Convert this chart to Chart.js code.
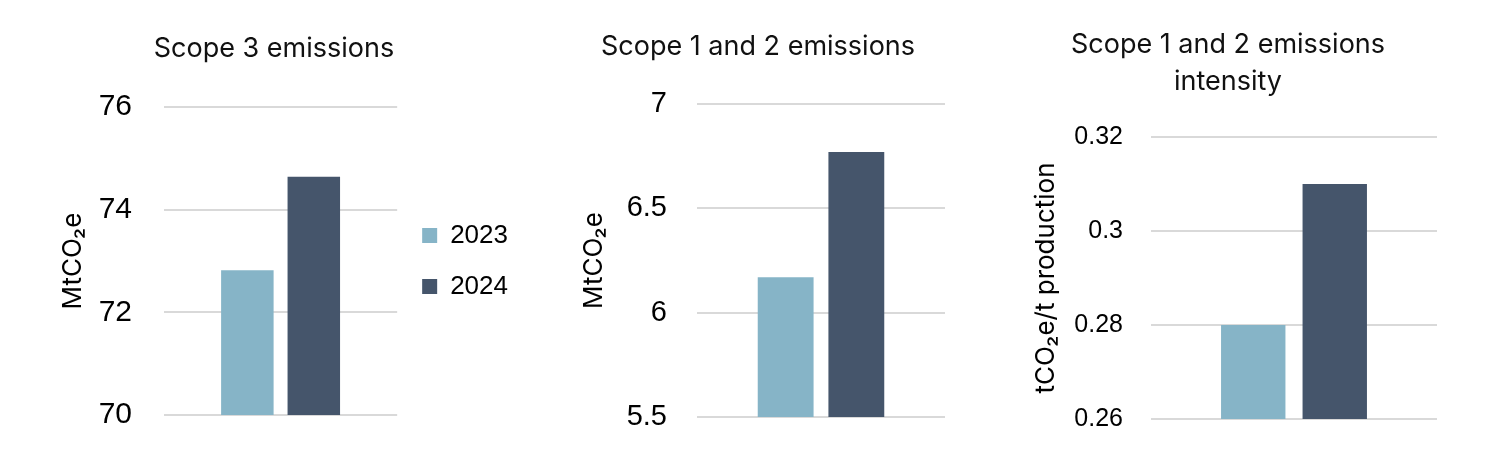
<!DOCTYPE html>
<html>
<head>
<meta charset="utf-8">
<script src="https://cdn.jsdelivr.net/npm/chart.js@4.4.1/dist/chart.umd.min.js"></script>
<style>
  html, body { margin: 0; padding: 0; background: #fff; }
  .box { position: absolute; top: 0; height: 465px; }
</style>
</head>
<body>
<div class="box" style="left:0;width:548px"><canvas id="scope3"></canvas></div>
<div class="box" style="left:548px;width:430px"><canvas id="scope12"></canvas></div>
<div class="box" style="left:978px;width:519px"><canvas id="intensity"></canvas></div>
<script>
Chart.defaults.font.family = "Inter, 'Liberation Sans', sans-serif";
Chart.defaults.color = '#111';

// data
const years = ['2023', '2024'];
const scope3 = [72.82, 74.64];
const scope12 = [6.17, 6.77];
const intensity = [0.28, 0.31];
const scope3Ticks = [70, 72, 74, 76];
const scope12Ticks = [5.5, 6, 6.5, 7];
const intensityTicks = [0.26, 0.28, 0.3, 0.32];

const barColors = ['#86b4c7', '#45556b'];
const tickFont = "'Liberation Sans', Arial, sans-serif";

function build(id, cfg) {
  return new Chart(document.getElementById(id), {
    type: 'bar',
    data: {
      labels: [''],
      datasets: years.map((y, i) => ({
        label: y,
        data: [cfg.values[i]],
        backgroundColor: barColors[i],
        categoryPercentage: 0.57,
        barPercentage: 0.79,
      }))
    },
    options: {
      responsive: true,
      maintainAspectRatio: false,
      animation: false,
      layout: { padding: cfg.pad },
      scales: {
        x: { display: false },
        y: {
          min: cfg.ticks[0],
          max: cfg.ticks[cfg.ticks.length - 1],
          afterBuildTicks: ax => { ax.ticks = cfg.ticks.map(v => ({ value: v })); },
          afterFit: ax => { ax.width = cfg.axisWidth; },
          border: { display: false },
          grid: { color: '#d9d9d9', lineWidth: 2, drawTicks: false },
          ticks: {
            padding: cfg.tickPad,
            color: '#000',
            font: { size: cfg.tickSize, family: tickFont },
            callback: v => String(v),
          },
          title: {
            display: true,
            text: cfg.yTitle,
            color: '#000',
            font: { size: 26 },
            padding: { top: cfg.yTitlePad, bottom: 0 },
          }
        }
      },
      plugins: {
        legend: cfg.legend ? {
          position: 'right',
          align: 'center',
          fullSize: false,
          maxWidth: 121,
          labels: {
            boxWidth: 15,
            boxHeight: 15,
            padding: 25,
            color: '#000',
            font: { size: 26, family: tickFont },
          }
        } : { display: false },
        title: {
          display: true,
          text: cfg.title,
          color: '#111',
          font: { size: 27, weight: 'normal', lineHeight: cfg.titleLine || 1.2 },
          padding: cfg.titlePad,
        },
        tooltip: { enabled: false }
      }
    }
  });
}

build('scope3', {
  values: scope3, ticks: scope3Ticks,
  title: 'Scope 3 emissions', titlePad: { top: 32.3, bottom: 42.3 },
  yTitle: 'MtCO\u2082e', yTitlePad: 27.4,
  pad: { left: 30, right: 30, top: 0, bottom: 48 },
  axisWidth: 134, tickPad: 32, tickSize: 30, legend: true,
});

build('scope12', {
  values: scope12, ticks: scope12Ticks,
  title: 'Scope 1 and 2 emissions', titlePad: { top: 30.8, bottom: 40.8 },
  yTitle: 'MtCO\u2082e', yTitlePad: 7.4,
  pad: { left: 23, right: 33, top: 0, bottom: 48 },
  axisWidth: 126, tickPad: 30, tickSize: 29,
});

build('intensity', {
  values: intensity, ticks: intensityTicks,
  title: ['Scope 1 and 2 emissions', 'intensity'], titleLine: 1.37,
  titlePad: { top: 26.5, bottom: 36.5 },
  yTitle: 'tCO\u2082e/t production', yTitlePad: 11.4,
  pad: { left: 41, right: 60, top: 0, bottom: 46 },
  axisWidth: 132, tickPad: 28, tickSize: 25,
});
</script>
</body>
</html>
